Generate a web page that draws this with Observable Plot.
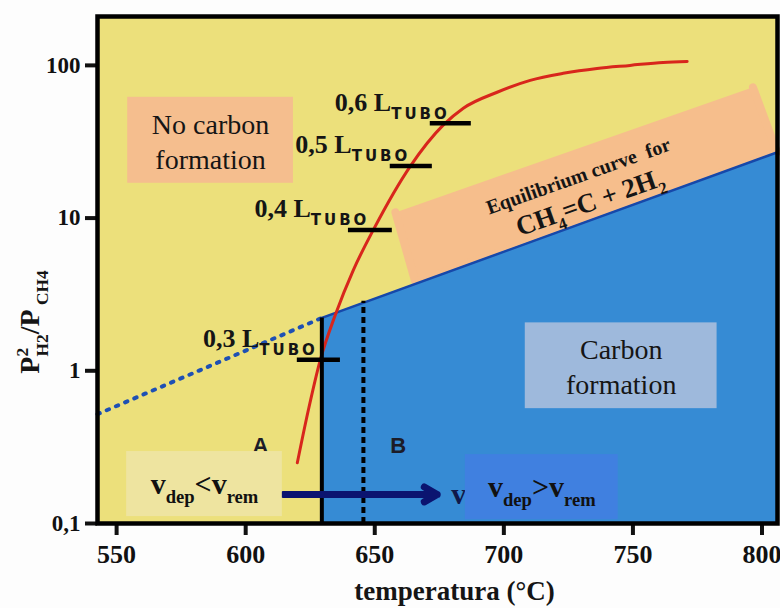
<!DOCTYPE html>
<html><head><meta charset="utf-8">
<script src="https://cdn.jsdelivr.net/npm/d3@7"></script>
<script src="https://cdn.jsdelivr.net/npm/@observablehq/plot@0.6"></script>
<style>
html,body{margin:0;padding:0;background:#fdfdfd;}
#chart{width:780px;height:608px;}
svg{display:block;}
</style></head><body><div id="chart"></div>
<script>
// ---------- data ----------
const tempTicks = [550, 600, 650, 700, 750, 800];
const ratioTicks = [0.1, 1, 10, 100];
const ratioTickLabels = ["0,1", "1", "10", "100"];

// red curve (P²H2/PCH4 along the tube)
const curveTemp  = [620.0, 624.3, 628.9, 634.7, 641.7, 649.5, 663.8, 676.5, 684.3, 697.4, 710.2, 723.0, 736.1, 748.9, 761.7, 771.0];
const curveRatio = [0.25, 0.556, 1.18, 2.32, 4.57, 8.4, 21.9, 40.6, 52.4, 66.7, 79.8, 88.7, 95.5, 100, 104.6, 106];

// equilibrium line CH4 = C + 2H2 (dotted part, then solid part)
const eqTemp  = [542.6, 629.5, 806];
const eqRatio = [0.52, 2.22, 27];

// tube-length markers
const markerLabels   = ["0,3", "0,4", "0,5", "0,6"];
const markerTempFrom = [620.0, 639.8, 656.0, 671.5];
const markerTempTo   = [636.7, 656.8, 672.3, 687.4];
const markerRatio    = [1.18, 8.36, 21.9, 41.8];

// vertical lines A/B
const boundaryTemp = 629.5, boundaryTop = 2.22;
const dashedTemp = 645.6, dashedTop = 2.85;

// zone letters
const zoneLabels = ["A", "B"];
const zoneTemp   = [605.7, 659.1];
const zoneRatio  = [0.322, 0.324];

// arrow
const arrowTemp  = [614.6, 674.2];
const arrowRatio = 0.155;
const arrowLabel = "v";
const arrowLabelTemp = 679.6;

// annotation boxes
const boxLabels    = ["No carbon\nformation", "Carbon\nformation", "v_{dep}<v_{rem}", "v_{dep}>v_{rem}"];
const boxTempFrom  = [554.3, 708.3, 553.9, 685.1];
const boxTempTo    = [618.5, 782.6, 614.2, 744.3];
const boxRatioFrom = [16.9, 0.565, 0.111, 0.106];
const boxRatioTo   = [61.8, 2.06, 0.296, 0.2825];

// tilted equilibrium label box
const eqBoxTemp  = [658.0, 665.7, 805.8, 796.5];
const eqBoxRatio = [10.9, 3.82, 27.0, 71.8];
const eqLabels     = ["Equilibrium curve  for", "CH_{4}=C + 2H_{2}"];
const eqLabelTemp  = [728.9, 733.4];
const eqLabelRatio = [18.8, 12.7];

const xLabel = "temperatura (°C)";
const yLabel = "P^{2}_{H2}/P_{ CH4}";

// ---------- chart ----------
const serif = "'Liberation Serif','Times New Roman','DejaVu Serif',serif";
const sans = "'Liberation Sans',Arial,sans-serif";
const idx = (n) => d3.range(n);
const boxColors = ["#F5BE8E", "#9EB9DC", "#EEE4A0", "#4080E0"];
const boxCenterX = i => (boxTempFrom[i] + boxTempTo[i]) / 2;
const boxCenterY = i => Math.sqrt(boxRatioFrom[i] * boxRatioTo[i]);

const chart = Plot.plot({
  width: 780, height: 608,
  marginLeft: 97, marginRight: 3, marginTop: 16, marginBottom: 85,
  x: {domain: [542.6, 806]},
  y: {type: "log", domain: [0.1, 209]},
  style: {fontFamily: serif, background: "#fdfdfd", color: "#111", overflow: "visible"},
  marks: [
    Plot.frame({fill: "#ECE07B", stroke: "none"}),
    // tilted peach label box
    Plot.line(idx(4), {x: i => eqBoxTemp[i], y: i => eqBoxRatio[i], fill: "#F6BE8C", stroke: "#F6BE8C", strokeWidth: 8, strokeLinejoin: "round"}),
    // carbon formation region
    Plot.areaY(idx(2), {x: i => eqTemp[i + 1], y1: 0.1, y2: i => eqRatio[i + 1], fill: "#368BD4"}),
    // equilibrium line
    Plot.line(idx(2), {x: i => eqTemp[i], y: i => eqRatio[i], stroke: "#1E50B4", strokeWidth: 4, strokeDasharray: "2.5,7.5", strokeLinecap: "round"}),
    Plot.line(idx(2), {x: i => eqTemp[i + 1], y: i => eqRatio[i + 1], stroke: "#1648AA", strokeWidth: 2.5}),
    // red curve
    Plot.line(idx(curveTemp.length), {x: i => curveTemp[i], y: i => curveRatio[i], stroke: "#D8261C", strokeWidth: 3, curve: "monotone-x"}),
    // vertical lines
    Plot.ruleX([dashedTemp], {y1: 0.1, y2: dashedTop, stroke: "#000", strokeWidth: 4, strokeDasharray: "6,4"}),
    Plot.ruleX([boundaryTemp], {y1: 0.1, y2: boundaryTop, stroke: "#000", strokeWidth: 4}),
    // markers
    Plot.ruleY(idx(4), {y: i => markerRatio[i], x1: i => markerTempFrom[i], x2: i => markerTempTo[i], stroke: "#000", strokeWidth: 4.5}),
    Plot.text(idx(4), {x: i => (markerTempFrom[i] + markerTempTo[i]) / 2, y: i => markerRatio[i], text: i => markerLabels[i] + " L_{TUBO}",
      textAnchor: "end", dx: -1, dy: -21, fontFamily: serif, fontSize: 26, fontWeight: "bold", fill: "#151515"}),
    // zone letters
    Plot.text(idx(2), {x: i => zoneTemp[i], y: i => zoneRatio[i], text: i => zoneLabels[i], fontFamily: sans, fontSize: 22, fontWeight: "bold", fill: "#1c1c28"}),
    // arrow
    Plot.arrow([0], {x1: arrowTemp[0], x2: arrowTemp[1], y1: arrowRatio, y2: arrowRatio, stroke: "#0B1470", strokeWidth: 7, headLength: 3.2, strokeLinecap: "round"}),
    Plot.text([0], {x: arrowLabelTemp, y: arrowRatio, text: () => arrowLabel, textAnchor: "start", fontFamily: serif, fontSize: 30, fontWeight: "bold", fill: "#10184a"}),
    // boxes
    Plot.rect(idx(4), {x1: i => boxTempFrom[i], x2: i => boxTempTo[i], y1: i => boxRatioFrom[i], y2: i => boxRatioTo[i], fill: i => boxColors[i]}),
    Plot.text(idx(2), {x: boxCenterX, y: boxCenterY, text: i => boxLabels[i],
      fontFamily: serif, fontSize: 28, lineHeight: 1.25, fill: "#151515"}),
    Plot.text([2, 3], {x: boxCenterX, y: boxCenterY, text: i => boxLabels[i],
      fontFamily: serif, fontSize: 30, fontWeight: "bold", fill: "#111"}),
    // equilibrium label
    Plot.text([0, 1], {x: i => eqLabelTemp[i], y: i => eqLabelRatio[i], text: i => eqLabels[i], rotate: -19.5,
      fontFamily: serif, fontSize: i => [20, 27][i], fontWeight: "bold", fill: "#151515"}),
    // axes
    Plot.axisY(ratioTicks, {anchor: "left", tickSize: 12, tickPadding: 5, strokeWidth: 4, fontFamily: serif, fontSize: 23, fontWeight: "bold", label: null,
      tickFormat: d => ratioTickLabels[ratioTicks.indexOf(d)]}),
    Plot.axisX(tempTicks, {anchor: "bottom", tickSize: 12, tickPadding: 9, strokeWidth: 4, fontFamily: serif, fontSize: 26, fontWeight: "bold", label: null}),
    Plot.frame({stroke: "#000", strokeWidth: 4.5}),
    Plot.text([0], {text: () => xLabel, frameAnchor: "bottom", lineAnchor: "middle", textAnchor: "middle", dx: 17, dy: 68,
      fontFamily: serif, fontSize: 27, fontWeight: "bold", fill: "#151515"}),
    Plot.text([0], {text: () => yLabel, frameAnchor: "left", lineAnchor: "middle", textAnchor: "middle", rotate: -90, dx: -67, dy: 52,
      fontFamily: serif, fontSize: 28, fontWeight: "bold", fill: "#151515"})
  ]
});
document.getElementById("chart").appendChild(chart);

// ---------- rich text (sub/superscripts) ----------
const SVGNS = "http://www.w3.org/2000/svg";
chart.querySelectorAll("text").forEach(t => {
  const s = t.textContent;
  if (!/[_^]\{/.test(s)) return;
  const fs = parseFloat(getComputedStyle(t).fontSize) || 16;
  while (t.firstChild) t.removeChild(t.firstChild);
  let shift = 0, prevSup = 0;
  const add = (txt, kind) => {
    if (!txt) return;
    const ts = document.createElementNS(SVGNS, "tspan");
    ts.textContent = txt;
    let target = kind === "_" ? 0.3 * fs : kind === "^" ? -0.4 * fs : 0;
    if (txt === "TUBO") target = 8;
    if (target !== shift) ts.setAttribute("dy", target - shift);
    shift = target;
    if (kind) ts.setAttribute("font-size", 0.62 * fs);
    if (kind === "_" && prevSup) ts.setAttribute("dx", -prevSup);
    prevSup = kind === "^" ? txt.length * 0.5 * 0.62 * fs : 0;
    if (txt === "TUBO") {
      ts.setAttribute("font-family", "'DejaVu Sans',sans-serif");
      ts.setAttribute("font-size", 15);
      ts.setAttribute("letter-spacing", 3);
    }
    t.appendChild(ts);
  };
  const re = /([_^])\{([^}]*)\}/g;
  let last = 0, m;
  while ((m = re.exec(s))) {
    add(s.slice(last, m.index), null);
    add(m[2], m[1]);
    last = re.lastIndex;
  }
  add(s.slice(last), null);
});
</script>
</body></html>
